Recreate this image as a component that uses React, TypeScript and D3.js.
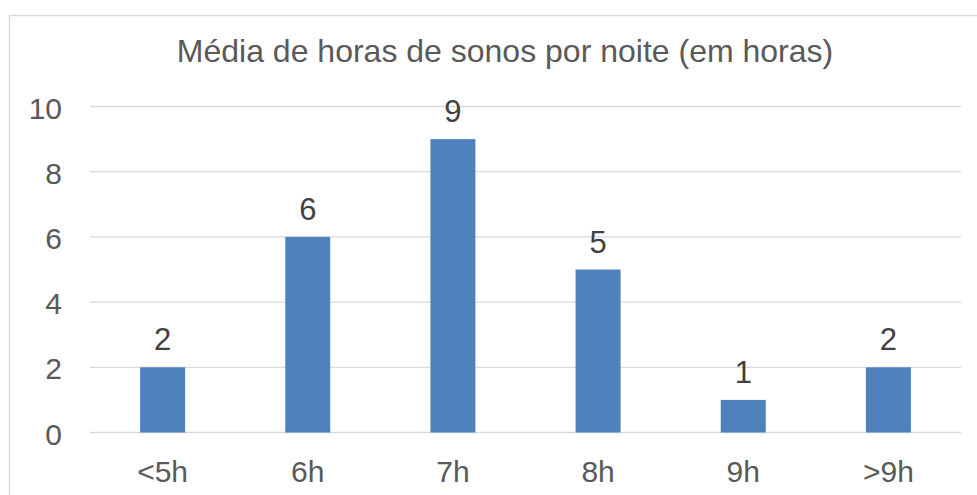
import { useEffect, useRef } from 'react'
import * as d3 from 'd3'

const categories = ['<5h', '6h', '7h', '8h', '9h', '>9h']
const counts = [2, 6, 9, 5, 1, 2]
const yTicks = [0, 2, 4, 6, 8, 10]
const title = 'Média de horas de sonos por noite (em horas)'

const W = 977
const H = 495
const FONT = '"Liberation Sans", Arial, sans-serif'

export default function App() {
  const svgRef = useRef<SVGSVGElement>(null)

  useEffect(() => {
    const svg = d3.select(svgRef.current)
    svg.selectAll('*').remove()

    // chart frame (right and bottom edges fall off the page)
    svg.append('rect')
      .attr('x', 9.5).attr('y', 15.5)
      .attr('width', W + 20).attr('height', H + 20)
      .attr('fill', '#fff')
      .attr('stroke', '#d9d9d9')
      .attr('stroke-width', 1.5)

    const x = d3.scaleBand<string>().domain(categories).range([90, 961])
    const y = d3.scaleLinear().domain([0, 10]).range([432.5, 106.5])

    // gridlines
    svg.append('g')
      .selectAll('line')
      .data(yTicks)
      .join('line')
      .attr('x1', 90).attr('x2', 961)
      .attr('y1', d => y(d)).attr('y2', d => y(d))
      .attr('stroke', '#d9d9d9')
      .attr('stroke-width', 1.3)

    // y tick labels
    svg.append('g')
      .selectAll('text')
      .data(yTicks)
      .join('text')
      .attr('x', 62)
      .attr('y', d => y(d) + 12)
      .attr('text-anchor', 'end')
      .attr('font-family', FONT)
      .attr('font-size', 30)
      .attr('fill', '#595959')
      .text(d => d)

    const bw = x.bandwidth() * 0.31

    svg.append('g')
      .selectAll('rect')
      .data(categories)
      .join('rect')
      .attr('x', d => x(d)! + x.bandwidth() / 2 - bw / 2)
      .attr('width', bw)
      .attr('y', (_, i) => y(counts[i]))
      .attr('height', (_, i) => y(0) - y(counts[i]))
      .attr('fill', '#4f81bd')

    // data labels
    svg.append('g')
      .selectAll('text')
      .data(categories)
      .join('text')
      .attr('x', d => x(d)! + x.bandwidth() / 2)
      .attr('y', (_, i) => y(counts[i]) - 17)
      .attr('text-anchor', 'middle')
      .attr('font-family', FONT)
      .attr('font-size', 31)
      .attr('fill', '#404040')
      .text((_, i) => counts[i])

    // x labels
    svg.append('g')
      .selectAll('text')
      .data(categories)
      .join('text')
      .attr('x', d => x(d)! + x.bandwidth() / 2)
      .attr('y', 482)
      .attr('text-anchor', 'middle')
      .attr('font-family', FONT)
      .attr('font-size', 30)
      .attr('fill', '#595959')
      .text(d => d)

    svg.append('text')
      .attr('x', 505)
      .attr('y', 62)
      .attr('text-anchor', 'middle')
      .attr('font-family', FONT)
      .attr('font-size', 32)
      .attr('fill', '#595959')
      .text(title)
  }, [])

  return (
    <svg
      ref={svgRef}
      width={W}
      height={H}
      style={{ position: 'absolute', left: 0, top: 0, background: '#fff' }}
    />
  )
}
